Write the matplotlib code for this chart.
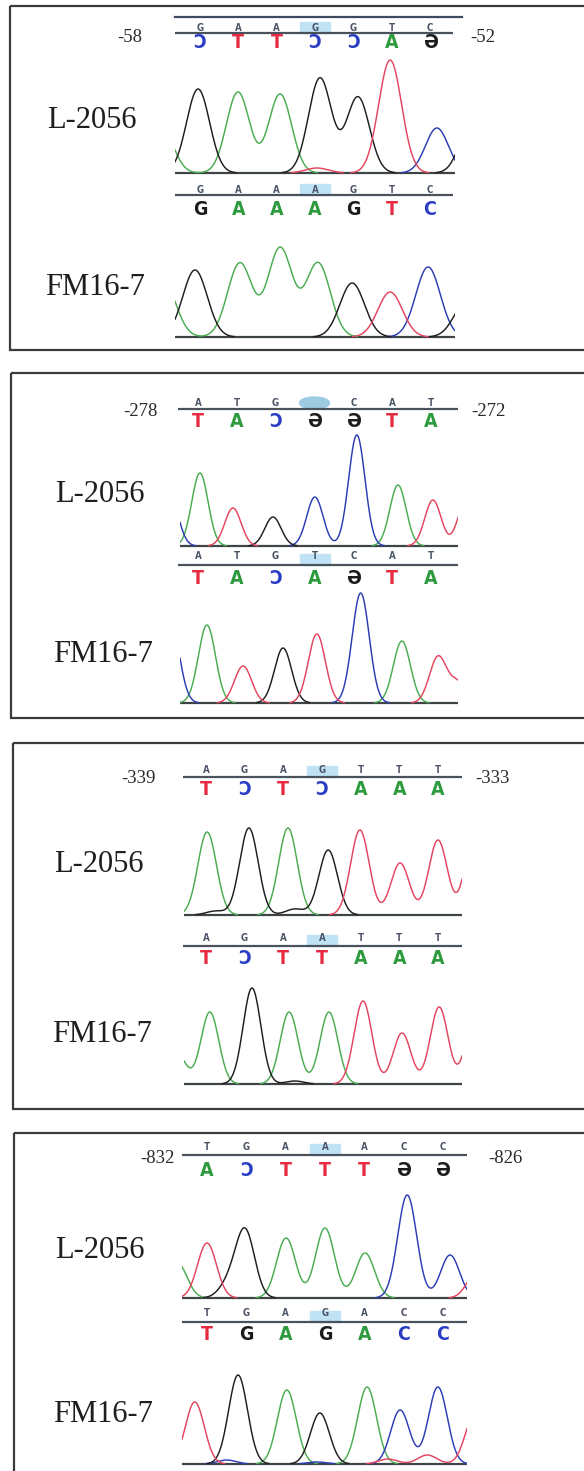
import numpy as np
import matplotlib
matplotlib.use("Agg")
import matplotlib.pyplot as plt
from matplotlib.patches import Rectangle, Ellipse
from matplotlib import font_manager

# ------------------------------------------------------------------ data
start_positions = ["-58", "-278", "-339", "-832"]
end_positions = ["-52", "-272", "-333", "-826"]
sample_names = ["L-2056", "FM16-7"]
upper_reads = ["GAAGGTC", "ATGCCAT", "AGAGTTT", "TGAAACC"]
lower_reads = ["GAAAGTC", "ATGTCAT", "AGAATTT", "TGAGACC"]
upper_reverse = [True, True, True, True]
lower_reverse = [False, True, True, False]
highlight_index = 3
upper_hidden = [False, True, False, False]

# chromatogram peaks: base index, height, channel (A/C/G/T)
p1_L_pos = [-1.0, -0.05, 0.99, 2.09, 3.05, 3.13, 4.12, 4.96, 6.18, 7.1]
p1_L_h = [45, 84, 81, 79, 5, 95, 76, 113, 45, 55]
p1_L_ch = "AGAATGGTCG"
p1_F_pos = [-0.95, -0.13, 1.04, 2.09, 3.08, 3.97, 4.96, 5.95, 6.95]
p1_F_h = [55, 67, 74, 89, 74, 54, 45, 70, 35]
p1_F_ch = "AGAAAGTCG"

p2_L_pos = [-0.72, 0.05, 0.90, 1.93, 3.01, 4.09, 5.15, 6.05, 6.9]
p2_L_h = [50, 73, 38, 29, 49, 111, 61, 46, 45]
p2_L_ch = "CATGCCATT"
p2_F_pos = [-0.7, 0.23, 1.16, 2.19, 3.06, 4.19, 5.25, 6.18, 6.7]
p2_F_h = [80, 78, 37, 55, 69, 110, 62, 46, 20]
p2_F_ch = "CATGTCATT"

p3_L_pos = [0.03, 0.25, 1.11, 2.12, 2.3, 3.16, 3.98, 5.02, 6.0, 6.95]
p3_L_h = [83, 4, 87, 87, 6, 65, 85, 52, 75, 85]
p3_L_ch = "AGGAGGTTTT"
p3_F_pos = [-0.75, 0.10, 1.19, 2.15, 2.3, 3.18, 4.06, 5.07, 6.03, 6.95]
p3_F_h = [30, 72, 96, 72, 3, 72, 83, 51, 77, 70]
p3_F_ch = "AAGAGATTTT"

p4_L_pos = [-0.75, 0.0, 0.55, 0.97, 2.01, 3.0, 4.02, 5.09, 6.18, 6.85]
p4_L_h = [35, 55, 14, 67, 60, 70, 45, 103, 43, 25]
p4_L_ch = "ATGGAAACCT"
p4_F_pos = [-0.31, 0.5, 0.79, 2.03, 2.8, 2.87, 4.07, 4.6, 4.91, 5.6, 5.87, 6.81]
p4_F_h = [62, 4, 89, 74, 2, 51, 77, 5, 54, 9, 77, 50]
p4_F_ch = "TCGACGATCTCT"

trace_sigma = [[0.30, 0.32], [0.21, 0.22], [0.24, 0.23], [0.24, 0.24]]

traces = [
    [(p1_L_pos, p1_L_h, p1_L_ch), (p1_F_pos, p1_F_h, p1_F_ch)],
    [(p2_L_pos, p2_L_h, p2_L_ch), (p2_F_pos, p2_F_h, p2_F_ch)],
    [(p3_L_pos, p3_L_h, p3_L_ch), (p3_F_pos, p3_F_h, p3_F_ch)],
    [(p4_L_pos, p4_L_h, p4_L_ch), (p4_F_pos, p4_F_h, p4_F_ch)],
]

# ------------------------------------------------------------------ layout (pixels)
W, H = 584, 1471
layout = [
    dict(frame=(10, 6, 350), extra_line=17, top_line=33, top_small=27, top_big=41,
         L_base=173, bot_small=189, bot_line=195, bot_big=208, F_base=337,
         pos_y=36, pos_x=(130, 483), L_lab=(92, 118), F_lab=(95, 285),
         px0=200, px1=430, lx=(175, 455), line_x=(175, 453)),
    dict(frame=(11, 373, 718), extra_line=None, top_line=409, top_small=402, top_big=420,
         L_base=546, bot_small=555, bot_line=565, bot_big=577, F_base=703,
         pos_y=410, pos_x=(140, 488), L_lab=(100, 492), F_lab=(103, 652),
         px0=198, px1=431, lx=(180, 458), line_x=(178, 458)),
    dict(frame=(13, 743, 1109), extra_line=None, top_line=777, top_small=769, top_big=788,
         L_base=915, bot_small=937, bot_line=946, bot_big=957, F_base=1084,
         pos_y=777, pos_x=(138, 492), L_lab=(99, 862), F_lab=(102, 1032),
         px0=206, px1=438, lx=(184, 462), line_x=(183, 462)),
    dict(frame=(14, 1133, 1495), extra_line=None, top_line=1155, top_small=1147, top_big=1169,
         L_base=1298, bot_small=1313, bot_line=1322, bot_big=1333, F_base=1464,
         pos_y=1157, pos_x=(157, 505), L_lab=(100, 1248), F_lab=(103, 1412),
         px0=207, px1=443, lx=(182, 467), line_x=(182, 467)),
]

base_color = {"A": "#2e9a3e", "T": "#e82a40", "C": "#2a3ec4", "G": "#1c1c1c"}
trace_color = {"A": "#4aac50", "T": "#e4445e", "C": "#2c3cb4", "G": "#1e1e1e"}
complement = {"A": "T", "T": "A", "G": "C", "C": "G"}
mirror_glyph = {"C": "\u0186", "G": "\u04D8"}

serif = ["Liberation Serif", "DejaVu Serif"]
installed = {f.name for f in font_manager.fontManager.ttflist}
narrow = [f for f in ["DejaVu Sans Condensed", "Liberation Sans Narrow"] if f in installed]
narrow = narrow + ["DejaVu Sans"]
stretch = "condensed"

fig = plt.figure(figsize=(W / 100, H / 100), dpi=100)
fig.patch.set_facecolor("white")
bg = fig.add_axes([0, 0, 1, 1])
bg.set_xlim(0, W)
bg.set_ylim(H, 0)
bg.axis("off")


def draw_row(lay, read, reverse, small_y, line_y, big_y, hidden):
    xs = [lay["px0"] + i * (lay["px1"] - lay["px0"]) / 6 for i in range(7)]
    x0, x1 = lay["line_x"]
    hx = xs[highlight_index]
    if hidden:
        bg.add_patch(Ellipse((hx, line_y - 6), 30, 12, color="#9ccbe2", zorder=1))
    else:
        bg.add_patch(Rectangle((hx - 15, line_y - 11), 30, 11, color="#bfe3f5", zorder=1))
    bg.plot([x0, x1], [line_y, line_y], color="#4a525c", lw=1.6, zorder=2,
            solid_capstyle="butt")
    for i, b in enumerate(read):
        if not (hidden and i == highlight_index):
            bg.text(xs[i], small_y + 3.5, b, ha="center", va="baseline",
                    fontsize=7.0, color="#4c5566", family=narrow, stretch=stretch,
                    fontweight="bold", zorder=3)
        if reverse:
            c = complement[b]
            g = mirror_glyph.get(c, c)
        else:
            c = b
            g = b
        bg.text(xs[i], big_y + 7, g, ha="center", va="baseline", fontsize=14,
                fontweight="bold", color=base_color[c], family=narrow,
                stretch=stretch, zorder=3)


def draw_trace(lay, base_y, peaks, sigma):
    pos, hgt, ch = peaks
    x_left, x_right = lay["lx"]
    dx = (lay["px1"] - lay["px0"]) / 6
    ax = fig.add_axes([x_left / W, 1 - (base_y + 3) / H,
                       (x_right - x_left) / W, 133 / H])
    ax.set_xlim((x_left - lay["px0"]) / dx, (x_right - lay["px0"]) / dx)
    ax.set_ylim(-3, 130)
    ax.axis("off")
    ax.patch.set_alpha(0)
    ax.axhline(0, color="#3e4448", lw=1.6, zorder=1)
    xx = np.linspace(ax.get_xlim()[0], ax.get_xlim()[1], 800)
    for c in "ACGT":
        yy = np.zeros_like(xx)
        for p, h, cc in zip(pos, hgt, ch):
            if cc == c:
                yy += h * np.exp(-((xx - p) ** 2) / (2 * sigma ** 2))
        if yy.max() <= 0:
            continue
        yy = np.where(yy > 0.4, yy, np.nan)
        ax.plot(xx, yy, color=trace_color[c], lw=1.05, zorder=2)


for k, lay in enumerate(layout):
    left, top, bottom = lay["frame"]
    bg.add_patch(Rectangle((left, top), 700, bottom - top, fill=False,
                           ec="#3a3a3a", lw=1.6, zorder=4))
    if lay["extra_line"] is not None:
        bg.plot([lay["line_x"][0], lay["line_x"][1] + 9],
                [lay["extra_line"]] * 2, color="#3e4a60", lw=1.6, zorder=2)
    bg.text(lay["pos_x"][0], lay["pos_y"] + 6.3, start_positions[k], ha="center",
            va="baseline", fontsize=13.5, family=serif, color="#2a2a2a")
    bg.text(lay["pos_x"][1], lay["pos_y"] + 6.3, end_positions[k], ha="center",
            va="baseline", fontsize=13.5, family=serif, color="#2a2a2a")
    bg.text(lay["L_lab"][0], lay["L_lab"][1] + 10, sample_names[0], ha="center",
            va="baseline", fontsize=22, family=serif, color="#1e1e1e")
    bg.text(lay["F_lab"][0], lay["F_lab"][1] + 10, sample_names[1], ha="center",
            va="baseline", fontsize=22, family=serif, color="#1e1e1e")

    draw_row(lay, upper_reads[k], upper_reverse[k], lay["top_small"], lay["top_line"],
             lay["top_big"], upper_hidden[k])
    draw_row(lay, lower_reads[k], lower_reverse[k], lay["bot_small"], lay["bot_line"],
             lay["bot_big"], False)
    draw_trace(lay, lay["L_base"], traces[k][0], trace_sigma[k][0])
    draw_trace(lay, lay["F_base"], traces[k][1], trace_sigma[k][1])

fig.savefig("out.png", dpi=100, facecolor="white")
